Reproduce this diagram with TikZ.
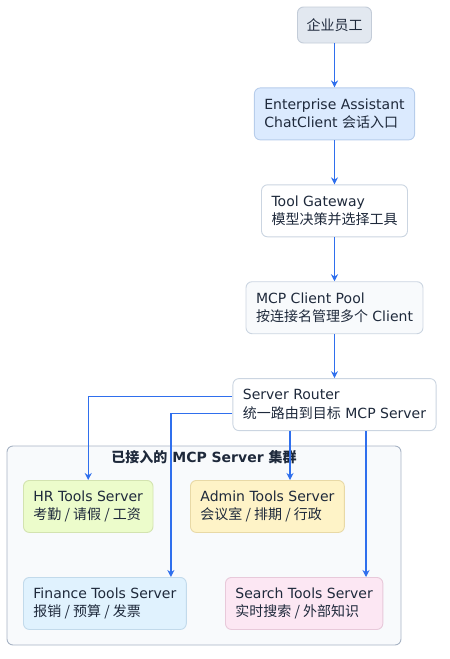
\documentclass[tikz,border=0pt]{standalone}
\usepackage{fontspec}
\setmainfont{DejaVu Sans}
\newfontfamily\cjk{Noto Sans CJK SC}
\usepackage{xcolor}
\usetikzlibrary{arrows.meta,positioning,shapes}

\definecolor{linkblue}{HTML}{2F6FED}
\definecolor{inkdark}{HTML}{1E293B}
\definecolor{edgegray}{HTML}{CBD5E1}
\definecolor{staffbg}{HTML}{E2E8F0}
\definecolor{staffline}{HTML}{C3CCD8}
\definecolor{chatbg}{HTML}{DBEAFE}
\definecolor{chatline}{HTML}{B7CDEB}
\definecolor{poolbg}{HTML}{F8FAFC}
\definecolor{clusterbg}{HTML}{F8FAFC}
\definecolor{clusterline}{HTML}{A7B3C4}
\definecolor{hrbg}{HTML}{ECFCCB}
\definecolor{hrline}{HTML}{D3E3B0}
\definecolor{adminbg}{HTML}{FEF3C7}
\definecolor{adminline}{HTML}{E8D9A6}
\definecolor{financebg}{HTML}{E0F2FE}
\definecolor{financeline}{HTML}{C2DAEB}
\definecolor{searchbg}{HTML}{FCE7F3}
\definecolor{searchline}{HTML}{E8C9DA}

\tikzset{
  box/.style={rectangle, rounded corners=6pt, draw=edgegray, fill=white, line width=0.9pt,
              align=left, inner xsep=10pt, minimum height=52pt, text=inkdark,
              font=\fontsize{14}{18.5}\selectfont},
  link/.style={draw=linkblue, line width=1.4pt, -{Stealth[length=7pt,width=7pt]}}
}

\begin{document}
\begin{tikzpicture}[x=1pt, y=1pt, node distance=44pt]
    \useasboundingbox (0,0) rectangle (450,-659);

    \node (staff) [box, fill=staffbg, draw=staffline, minimum height=36pt, inner xsep=9pt] at (334.5,-25) {\cjk 企业员工};
    \node (chat) [box, below=of staff, fill=chatbg, draw=chatline] {Enterprise Assistant\\ChatClient {\cjk 会话入口}};
    \node (gateway) [box, below=of chat] {Tool Gateway\\{\cjk 模型决策并选择工具}};
    \node (pool) [box, below=of gateway, fill=poolbg] {MCP Client Pool\\{\cjk 按连接名管理多个} Client};
    \node (router) [box, below=of pool] {Server Router\\{\cjk 统一路由到目标} MCP Server};

    % cluster
    \draw [rounded corners=6pt, draw=clusterline, fill=clusterbg, line width=0.9pt] (7,-446) rectangle (401,-645);
    \node (title) [font=\fontsize{14}{16}\selectfont\bfseries, text=inkdark] at (204,-457) {{\cjk 已接入的} MCP Server {\cjk 集群}};

    \node (hr) [box, anchor=north west, fill=hrbg, draw=hrline] at (23,-480) {HR Tools Server\\{\cjk 考勤 / 请假 / 工资}};
    \node (admin) [box, anchor=north west, fill=adminbg, draw=adminline] at (190,-480) {Admin Tools Server\\{\cjk 会议室 / 排期 / 行政}};
    \node (finance) [box, anchor=north west, fill=financebg, draw=financeline] at (23,-577) {Finance Tools Server\\{\cjk 报销 / 预算 / 发票}};
    \node (search) [box, anchor=north west, fill=searchbg, draw=searchline] at (225,-577) {Search Tools Server\\{\cjk 实时搜索 / 外部知识}};

    \draw [link] (staff) -- (chat);
    \draw [link] (chat) -- (gateway);
    \draw [link] (gateway) -- (pool);
    \draw [link] (pool) -- (router);

    \draw [link] ([yshift=8pt]router.west) -| (hr.north);
    \draw [link] ([yshift=-9pt]router.west) -| ([xshift=66pt]finance.north);
    \draw [link] ([xshift=-44.5pt]router.south) -- ([xshift=-44.5pt]router.south |- admin.north);
    \draw [link] ([xshift=31.5pt]router.south) -- ([xshift=31.5pt]router.south |- search.north);
\end{tikzpicture}
\end{document}
